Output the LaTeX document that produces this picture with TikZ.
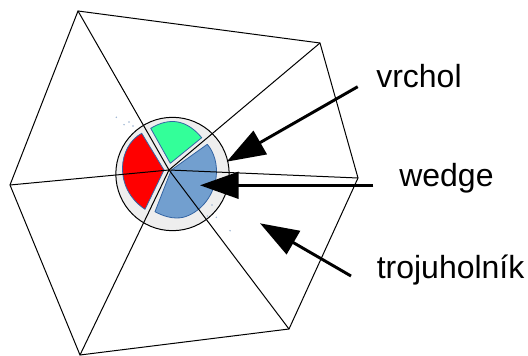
\documentclass[tikz,border=0pt]{standalone}
\usepackage{fontspec}
\usepackage{tikz}
\usetikzlibrary{arrows.meta}
\setmainfont{Liberation Sans}
\definecolor{wedgeblue}{HTML}{729FCF}
\definecolor{wedgeedge}{HTML}{3465A4}
\definecolor{wedgegreen}{HTML}{33FF99}
\definecolor{discgray}{HTML}{EEEEEE}
\tikzset{
  edgeline/.style={draw=black, line width=0.75pt},
  wedgeshape/.style={draw=wedgeedge, line width=0.6pt, line join=round},
  pointer/.style={draw=black, line width=2.2pt, -{Triangle[length=29pt,width=20pt]}, shorten <=0pt},
  caption/.style={font=\fontsize{24}{28}\selectfont, inner sep=0pt, anchor=base west},
  speck/.style={fill=wedgeedge!50, draw=none}
}

\begin{document}
\begin{tikzpicture}[x=0.75pt, y=-0.75pt]
        \useasboundingbox (0,0) rectangle (528,356);
        % disc
        \node[draw=black, line width=0.75pt, fill=discgray, circle, minimum size=85pt, inner sep=0pt] (disc) at (172.5,174) {};
        % wedges
        \fill[wedgeshape, fill=wedgegreen] (170.3,163.3) -- (150.7,128.3) .. controls (170,116.7) and (187,120) .. (201.7,137.7) -- cycle;
        \fill[wedgeshape, fill=red] (164,170) -- (141.7,133.3) .. controls (118,146) and (113,188) .. (145,209.3) -- cycle;
        \fill[wedgeshape, fill=wedgeblue] (172,169.5) -- (207.3,144.3) .. controls (214,152) and (218,165) .. (216,178) .. controls (213,198) and (199,213) .. (183.3,217.3) .. controls (173,219.5) and (163,216) .. (155,211.7) -- (170,173.3) -- cycle;
        % triangle fan
        \coordinate (hub) at (169,170);
        \coordinate (v1) at (78,11);
        \coordinate (v2) at (320,43);
        \coordinate (v3) at (358,178);
        \coordinate (v4) at (289,329);
        \coordinate (v5) at (80,355);
        \coordinate (v6) at (10,185);
        \draw[edgeline] (v1) -- (v2) -- (v3) -- (v4) -- (v5) -- (v6) -- cycle;
        \foreach \v in {v1,v2,v3,v4,v5,v6}
          \draw[edgeline] (hub) -- (\v);
        % specks
        \foreach \p in {(116.3,117.3),(124,124.7),(129,122),(133,126),(212,205),(207.3,216),(216.3,217.3),(230,230.7)}
          \fill[speck] \p circle (0.6pt);
        % labels
        \node[caption] (vrchol) at (376,88) {vrchol};
        \node[caption] (wedge) at (399,186) {wedge};
        \node[caption] (troj) at (376.5,278) {trojuholník};
        % arrows
        \coordinate (vrcholtail) at (357.7,86.7);
        \coordinate (vrcholtip) at (226.7,161.7);
        \coordinate (wedgetail) at (373.3,185.3);
        \coordinate (wedgetip) at (200,185.3);
        \coordinate (trojtail) at (351,276);
        \coordinate (trojtip) at (260,223.3);
        \draw[pointer] (vrcholtail) -- (vrcholtip);
        \draw[pointer] (wedgetail) -- (wedgetip);
        \draw[pointer] (trojtail) -- (trojtip);
      \end{tikzpicture}
\end{document}
